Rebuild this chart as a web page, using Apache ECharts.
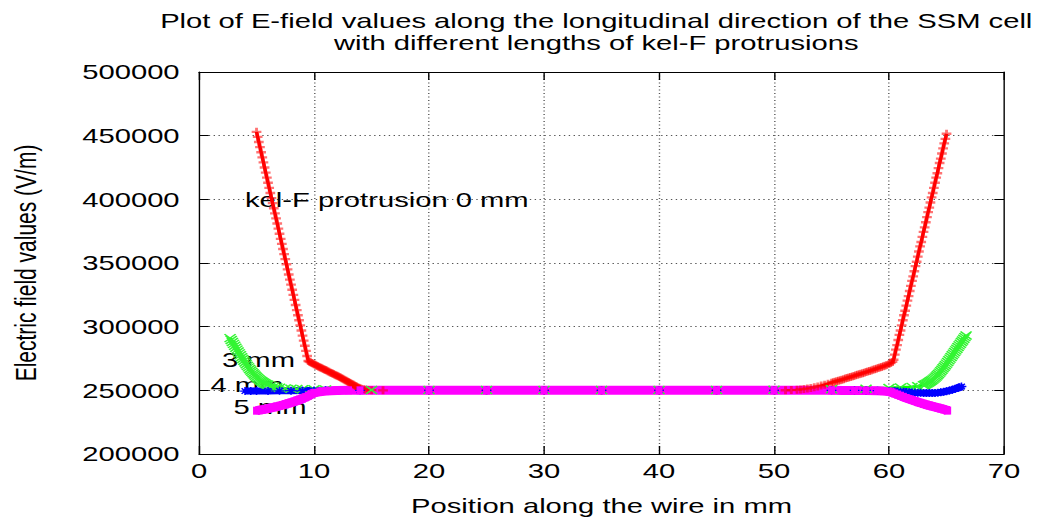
<!DOCTYPE html>
<html>
<head>
<meta charset="utf-8">
<script src="https://cdn.jsdelivr.net/npm/echarts@6/dist/echarts.min.js"></script>
<style>
html,body{margin:0;padding:0;background:#fff;overflow:hidden;width:1041px;height:523px;}
#c{width:749px;height:523px;transform:scaleX(1.389853);transform-origin:0 0;}
</style>
</head>
<body>
<div id="c"></div>
<script>
// ---- data (x in mm, E-field in V/m) ----
const seriesNames = ['kel-F 0 mm', 'kel-F 3 mm', 'kel-F 4 mm', 'kel-F 5 mm'];
const xTicks = [0, 10, 20, 30, 40, 50, 60, 70];
const yTicks = [200000, 250000, 300000, 350000, 400000, 450000, 500000];

const red0mm = [
[5.0,453000],[5.1,449000],[5.2,445000],[5.3,441000],[5.4,437000],[5.5,433000],[5.6,429000],[5.7,425000],[5.8,421000],[5.9,417000],
[6.0,413000],[6.1,409000],[6.2,405000],[6.3,401000],[6.4,397000],[6.5,393000],[6.6,389000],[6.7,385000],[6.8,381000],[6.9,377000],
[7.0,373000],[7.1,369000],[7.2,365000],[7.3,361000],[7.4,357000],[7.5,353000],[7.6,349000],[7.7,345000],[7.8,341000],[7.9,337000],
[8.0,333000],[8.1,329000],[8.2,325000],[8.3,321000],[8.4,317000],[8.5,313000],[8.6,309000],[8.7,305000],[8.8,301000],[8.9,297000],
[9.0,293000],[9.1,289000],[9.2,285000],[9.3,281000],[9.4,277000],[9.5,273000],
[9.6,272500],[9.7,272000],[9.8,271500],[9.9,271000],[10.0,270500],[10.1,270000],[10.2,269500],[10.3,269100],[10.4,268600],[10.5,268200],
[10.6,267700],[10.7,267300],[10.8,266800],[10.9,266400],[11.0,265900],[11.1,265500],[11.2,265000],[11.3,264600],[11.4,264100],[11.5,263700],
[11.6,263200],[11.7,262800],[11.8,262300],[11.9,261900],[12.0,261400],[12.1,261000],[12.2,260500],[12.3,260000],[12.4,259500],[12.5,259000],
[12.6,258500],[12.7,258000],[12.8,257500],[12.9,257000],[13.0,256500],[13.1,256000],[13.2,255500],[13.3,255000],[13.4,254500],[13.5,254000],
[13.6,253500],[13.7,253000],[13.8,252500],[13.9,252000],[14.0,251600],[14.1,251300],[14.3,250800],[14.5,250400],[14.7,250200],[15.0,250100],
[16,250000],[20,250000],[25,250000],[30,250000],[35,250000],[40,250000],[45,250000],[50,250000],[51,250100],
[51.5,250200],[52,250400],[52.3,250700],[52.6,251000],[52.9,251400],[53.2,251900],[53.5,252500],[53.8,253100],[54.1,253700],[54.4,254400],
[54.7,255200],[55.0,256000],[55.15,256400],[55.3,256800],[55.45,257200],[55.6,257600],[55.75,258000],[55.9,258400],[56.05,258800],[56.2,259200],
[56.35,259650],[56.5,260100],[56.65,260500],[56.8,260900],[56.95,261350],[57.1,261800],[57.25,262200],[57.4,262600],[57.55,263050],[57.7,263500],
[57.85,263900],[58.0,264300],[58.15,264750],[58.3,265200],[58.45,265650],[58.6,266100],[58.75,266550],[58.9,267000],[59.05,267450],[59.2,267900],
[59.35,268400],[59.5,268900],[59.65,269400],[59.8,269900],[60.0,270600],[60.15,271400],[60.3,272300],
[60.4,274000],[60.5,278000],[60.6,282000],[60.7,285500],[60.8,289500],[60.9,293500],[61.0,297000],[61.1,301000],[61.2,305000],[61.3,309000],
[61.4,312500],[61.5,316500],[61.6,320500],[61.7,324000],[61.8,328000],[61.9,332000],[62.0,336000],[62.1,339500],[62.2,343500],[62.3,347500],
[62.4,351000],[62.5,355000],[62.6,359000],[62.7,363000],[62.8,366500],[62.9,370500],[63.0,374500],[63.1,378000],[63.2,382000],[63.3,386000],
[63.4,390000],[63.5,393500],[63.6,397500],[63.7,401500],[63.8,405000],[63.9,409000],[64.0,413000],[64.1,417000],[64.2,420500],[64.3,424500],
[64.4,428500],[64.5,432000],[64.6,436000],[64.7,440000],[64.8,444000],[64.9,447500],[65.0,451500]
];

const green3mm = [
[2.7,291000],[2.8,289500],[2.9,288000],[3.0,286500],[3.1,285000],[3.2,283500],[3.3,282000],[3.4,280500],[3.5,279000],[3.6,277500],
[3.7,276000],[3.8,274600],[3.9,273200],[4.0,271800],[4.1,270500],[4.2,269200],[4.3,268000],[4.4,266800],[4.5,265600],[4.6,264500],
[4.7,263400],[4.8,262400],[4.9,261400],[5.0,260500],[5.1,259600],[5.2,258800],[5.3,258000],[5.4,257300],[5.5,256700],[5.6,256100],
[5.7,255600],[5.8,255100],[5.9,254700],[6.0,254300],[6.25,253500],[6.5,252900],[6.75,252400],[7.0,252000],[7.5,251500],[8.0,251200],
[8.5,251000],[9.0,250900],[10,250800],[11,250600],[15,250300],[20,250200],[25,250200],[30,250200],[35,250200],[40,250200],
[45,250200],[50,250400],[55,250800],[58,251300],[60,251800],[61,252200],[62,252700],[62.5,253200],[63.0,254000],
[63.1,254400],[63.2,254900],[63.3,255400],[63.4,255900],[63.5,256500],[63.6,257100],[63.7,257700],[63.8,258400],[63.9,259200],[64.0,260000],
[64.1,260900],[64.2,261800],[64.3,262800],[64.4,263900],[64.5,265000],[64.6,266100],[64.7,267300],[64.8,268500],[64.9,269700],[65.0,271000],
[65.1,272300],[65.2,273600],[65.3,274900],[65.4,276200],[65.5,277500],[65.6,278800],[65.7,280100],[65.8,281400],[65.9,282700],[66.0,284000],
[66.1,285300],[66.2,286600],[66.3,287900],[66.4,289200],[66.5,290500],[66.6,291800],[66.7,293000]
];

const blue4mm = [
[4.0,249400],[4.5,249400],[5.0,249500],[6.0,249500],[7.0,249600],[8.0,249700],[9.0,249800],[10,249900],[11,250000],[14,250000],
[20,250000],[25,250000],[30,250000],[35,250000],[40,250000],[45,250000],[50,250000],[55,250000],[57,250000],[58,249900],
[59,249700],[60,249500],[60.5,249300],[60.75,249150],[61,249000],[61.25,248850],[61.5,248700],[61.75,248550],[62,248400],[62.25,248300],
[62.5,248200],[62.75,248100],[63,248000],[63.25,247950],[63.5,247900],[63.75,247950],[64,248000],[64.25,248200],[64.5,248500],[64.75,248850],
[65,249300],[65.25,249850],[65.5,250500],[65.75,251200],[66,252000],[66.15,252500],[66.3,253000]
];

const magenta5mm = [
[5.0,234000],[5.25,234400],[5.5,234800],[5.75,235200],[6.0,235700],[6.25,236200],[6.5,236700],[6.75,237200],[7.0,237800],[7.25,238400],
[7.5,239000],[7.75,239700],[8.0,240400],[8.25,241100],[8.5,241900],[8.75,242700],[9.0,243600],[9.25,244600],[9.5,245700],[9.75,247000],
[10.0,248000],[10.5,248900],[11.0,249400],[11.5,249700],[12.0,249850],[13.0,250000],[14,250000],[20,250000],[25,250000],[30,250000],
[35,250000],[40,250000],[45,250000],[50,250000],[55,250000],[56,249950],[57,249900],[58,249800],[59,249600],[59.5,249400],
[60.0,249000],[60.25,248400],[60.5,247600],[60.75,246700],[61.0,245800],[61.25,244900],[61.5,244000],[61.75,243200],[62.0,242400],[62.25,241600],
[62.5,240800],[62.75,240100],[63.0,239400],[63.25,238700],[63.5,238100],[63.75,237500],[64.0,236900],[64.25,236300],[64.5,235700],[64.75,235100],
[65.0,234400],[65.1,234100]
];

const titleLines = ['Plot of E-field values along the longitudinal direction of the SSM cell', 'with different lengths of kel-F protrusions'];
const curveLabels = ['kel-F protrusion 0 mm', '3 mm', '4 mm', '5 mm'];

// ---- chart ----
const FONT = '"Liberation Sans", Arial, Helvetica, sans-serif';
const chart = echarts.init(document.getElementById('c'), null, {renderer: 'svg'});

const gridLine = {show: true, showMinLine: false, showMaxLine: false, lineStyle: {color: '#555', width: 1, type: [1, 2.5]}};
function mainAxis(isX) {
  return {
    type: 'value',
    min: isX ? xTicks[0] : yTicks[0],
    max: isX ? xTicks[xTicks.length - 1] : yTicks[yTicks.length - 1],
    interval: isX ? xTicks[1] - xTicks[0] : yTicks[1] - yTicks[0],
    position: isX ? 'bottom' : 'left',
    axisLine: {show: true, onZero: false, lineStyle: {color: '#000', width: 1}},
    axisTick: {show: true, inside: true, length: isX ? 8 : 7, lineStyle: {color: '#000', width: 1}},
    axisLabel: {show: true, color: '#000', fontSize: 21, fontFamily: FONT, margin: isX ? 6 : 14,
      formatter: function (v) { return String(v); }},
    splitLine: gridLine,
    name: isX ? 'Position along the wire in mm' : 'Electric field values (V/m)',
    nameLocation: 'middle',
    nameGap: isX ? 41 : 114,
    nameTextStyle: {color: '#000', fontSize: 21, fontFamily: FONT}
  };
}
function mirrorAxis(isX) {
  return {
    type: 'value',
    min: isX ? xTicks[0] : yTicks[0],
    max: isX ? xTicks[xTicks.length - 1] : yTicks[yTicks.length - 1],
    interval: isX ? xTicks[1] - xTicks[0] : yTicks[1] - yTicks[0],
    position: isX ? 'top' : 'right',
    axisLine: {show: true, onZero: false, lineStyle: {color: '#000', width: 1}},
    axisTick: {show: true, inside: true, length: isX ? 8 : 7, lineStyle: {color: '#000', width: 1}},
    axisLabel: {show: false},
    splitLine: {show: false}
  };
}

const plus = 'path://M0,5L10,5M5,0L5,10';
const cross = 'path://M0,0L10,10M10,0L0,10';
const star = 'path://M0,5L10,5M5,0L5,10M1.5,1.5L8.5,8.5M8.5,1.5L1.5,8.5';

function lineSeries(name, data, color, lw, symbol, size, symColor, symFill, bw) {
  return {
    name: name, type: 'line', data: data,
    xAxisIndex: 0, yAxisIndex: 0,
    symbol: symbol, symbolSize: size, showSymbol: symbol !== 'none', showAllSymbol: true,
    symbolKeepAspect: false,
    lineStyle: {color: color, width: lw, opacity: lw > 0 ? 1 : 0},
    itemStyle: {color: symFill, borderColor: symColor, borderWidth: bw, opacity: 1},
    emphasis: {disabled: true},
    silent: true, z: 2, clip: true
  };
}

const option = {
  animation: false,
  backgroundColor: '#fff',
  title: {
    text: titleLines.join('\n'),
    left: 424, top: 5, textAlign: 'center',
    textStyle: {color: '#000', fontSize: 21, fontWeight: 'normal', fontFamily: FONT, lineHeight: 22}
  },
  grid: {left: 143.2, right: 26.6, top: 72, bottom: 69, containLabel: false, outerBoundsMode: 'none'},
  xAxis: [mainAxis(true), mirrorAxis(true)],
  yAxis: [mainAxis(false), mirrorAxis(false)],
  series: [
    // red: point markers (pale +) underneath, line drawn over them
    lineSeries(seriesNames[0], red0mm, '#ff0000', 0, plus, [7, 8], 'rgba(255,0,0,0.55)', 'rgba(0,0,0,0)', 2.2),
    lineSeries(seriesNames[0], red0mm, '#ff0000', 2.5, 'none', 0, '#ff0000', '#ff0000', 0),
    lineSeries(seriesNames[1], green3mm, '#00ff00', 3, cross, [8, 8], '#33f533', 'rgba(0,0,0,0)', 1.3),
    lineSeries(seriesNames[2], blue4mm, '#0000ff', 7, star, [7, 8], '#0000ff', 'rgba(0,0,0,0)', 1.2),
    lineSeries(seriesNames[3], magenta5mm, '#ff00ff', 9, 'rect', [5, 8], '#ff00ff', '#ff00ff', 0)
  ]
};
chart.setOption(option);

// curve annotations, anchored in data coordinates (left edge, vertical middle)
const labelAnchors = [[4.0, 400000], [2.0, 274000], [1.0, 254500], [3.0, 237000]];
const graphics = curveLabels.map(function (t, i) {
  const p = chart.convertToPixel({xAxisIndex: 0, yAxisIndex: 0}, labelAnchors[i]);
  return {
    type: 'text', x: p[0], y: p[1], z: 1, silent: true,
    style: {text: t, fill: '#000', fontSize: 21, lineHeight: 18, fontFamily: FONT, align: 'left', verticalAlign: 'middle'}
  };
});
chart.setOption({graphic: graphics});
</script>
</body>
</html>
